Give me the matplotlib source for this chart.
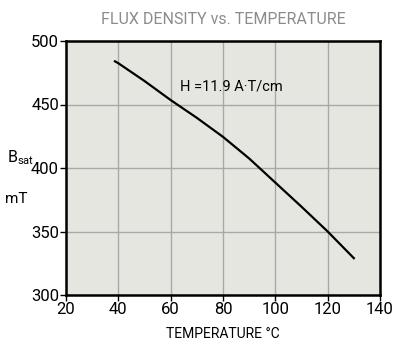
import matplotlib
matplotlib.use("Agg")
import matplotlib.pyplot as plt

temperature = [38.7, 40, 50, 60, 70, 80, 90, 100, 110, 120, 130]
bsat = [484, 482.5, 468.5, 453.5, 439.5, 424.5, 407.5, 388.5, 369.5, 350, 329]
x_ticks = [20, 40, 60, 80, 100, 120, 140]
y_ticks = [300, 350, 400, 450, 500]

plt.rcParams['font.family'] = ['Roboto', 'DejaVu Sans']

fig = plt.figure(figsize=(3.99, 3.55), dpi=100)
ax = fig.add_axes([66/399, 1-295/355, (380-66)/399, (295-41)/355])
ax.set_facecolor('#e6e6e1')
ax.plot(temperature, bsat, color='black', lw=1.6, solid_joinstyle='round')
ax.set_xlim(20, 140)
ax.set_ylim(300, 500)
ax.set_xticks(x_ticks)
ax.set_yticks(y_ticks)
ax.grid(True, color='#a8a8a8', lw=1.0)
ax.set_axisbelow(True)
for s in ax.spines.values():
    s.set_linewidth(1.8)
    s.set_color('black')
ax.tick_params(direction='out', length=4, width=1, labelsize=12, colors='black', pad=1)
ax.text(63.6, 464, 'H =11.9 A·T/cm', fontsize=10.5, va='center', ha='left')
fig.text(223/399, 1-20/355, 'FLUX DENSITY vs. TEMPERATURE', fontsize=11.5, color='#8c8c8c', ha='center', va='center')
fig.text(223/399, 1-334/355, 'TEMPERATURE °C', fontsize=10, ha='center', va='center')
fig.text(7/399, 1-158/355, r'B$_{\mathregular{sat}}$', fontsize=11.5, ha='left', va='center')
fig.text(5/399, 1-199/355, 'mT', fontsize=11, ha='left', va='center')
fig.savefig('out.png', dpi=100)
